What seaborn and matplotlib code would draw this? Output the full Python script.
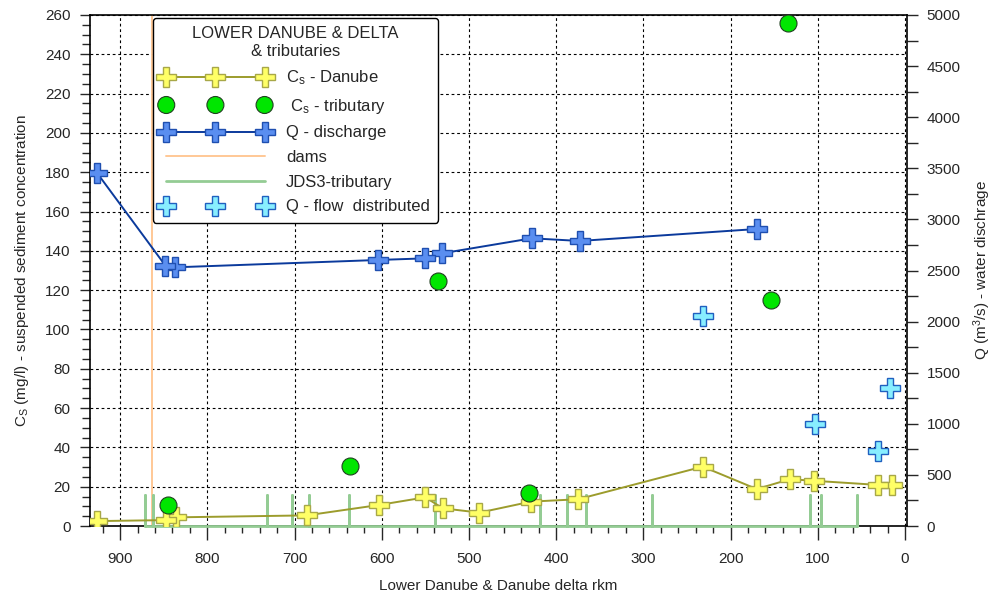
import numpy as np
import pandas as pd
import matplotlib
matplotlib.use("Agg")
import matplotlib.pyplot as plt
from matplotlib.ticker import MultipleLocator
import seaborn as sns

# Suspended sediment concentration along the Danube (rkm, mg/l)
cs_rkm = [926, 847, 836, 686, 603, 550, 530, 488, 429, 375, 232, 170, 132, 104, 31, 15]
cs_val = [2.5, 3.0, 4.4, 5.4, 10.7, 14.6, 9.0, 6.8, 12.4, 13.6, 30.2, 18.8, 23.8, 23.0, 20.9, 20.9]

# Suspended sediment concentration in tributaries (mg/l)
trib_rkm = [845, 636, 536, 431, 154, 134]
trib_cs = [10.7, 30.7, 124.8, 17.0, 115.0, 256.0]

# Water discharge along the Danube (m3/s)
q_rkm = [926, 848, 837, 604, 550, 531, 428, 373, 170]
q_val = [3450, 2547, 2531, 2603, 2619, 2668, 2815, 2789, 2906]

# Discharge distributed over the delta branches (m3/s)
qd_rkm = [232, 103, 31, 17]
qd_val = [2050, 998, 737, 1353]

# Dam position and JDS3 tributary confluences (rkm)
dam_rkm = 863
jds_rkm = [871, 862.5, 732, 702.5, 683, 637, 539, 418.5, 387, 366, 290, 109, 96, 55]
jds_mark = 300  # marker height on discharge axis

sns.set_style("ticks")
plt.rcParams["font.family"] = ["Liberation Sans", "DejaVu Sans"]
plt.rcParams["mathtext.fontset"] = "custom"
plt.rcParams["mathtext.rm"] = "Liberation Sans"
plt.rcParams["mathtext.it"] = "Liberation Sans"

fig = plt.figure(figsize=(9.92, 5.99), dpi=100)
ax = fig.add_axes([90 / 992, 1 - 526 / 599, 817 / 992, 511 / 599])
ax2 = ax.twinx()

# vertical markers: dam and tributary confluences
dam_df = pd.DataFrame({"x": [dam_rkm, dam_rkm], "y": [0, 260]})
sns.lineplot(data=dam_df, x="x", y="y", ax=ax, color="#ffc896", lw=1.4,
             sort=False, estimator=None, zorder=1)

jx, jy = [], []
for r in jds_rkm:
    jx += [r, r, r]
    jy += [0, jds_mark * 260 / 5000, 0]
jds_df = pd.DataFrame({"x": jx, "y": jy})
sns.lineplot(data=jds_df, x="x", y="y", ax=ax, color="#94cc94", lw=2,
             sort=False, estimator=None, zorder=3, clip_on=False)

# Danube concentration
cs_df = pd.DataFrame({"rkm": cs_rkm, "cs": cs_val})
sns.lineplot(data=cs_df, x="rkm", y="cs", ax=ax, color="#9c9c2c", lw=1.4,
             marker="P", markersize=15, markerfacecolor="#ffff66",
             markeredgecolor="#a8a848", markeredgewidth=1.0,
             estimator=None, zorder=4)

# tributary concentration
tr_df = pd.DataFrame({"rkm": trib_rkm, "cs": trib_cs})
sns.scatterplot(data=tr_df, x="rkm", y="cs", ax=ax, color="#00e600",
                edgecolor="#204020", linewidth=0.8, s=150, zorder=5)

# discharge
q_df = pd.DataFrame({"rkm": q_rkm, "q": q_val})
sns.lineplot(data=q_df, x="rkm", y="q", ax=ax2, color="#0b3a9c", lw=1.4,
             marker="P", markersize=15, markerfacecolor="#5a8ef0",
             markeredgecolor="#1f4fb0", markeredgewidth=1.0,
             estimator=None, zorder=3)

qd_df = pd.DataFrame({"rkm": qd_rkm, "q": qd_val})
sns.lineplot(data=qd_df, x="rkm", y="q", ax=ax2, linestyle="",
             marker="P", markersize=15, markerfacecolor="#88eeff",
             markeredgecolor="#2060c0", markeredgewidth=1.0,
             estimator=None, zorder=3)

ax.set_xlim(934.5, -2.3)
ax.set_ylim(0, 260)
ax2.set_ylim(0, 5000)

ax.xaxis.set_major_locator(MultipleLocator(100))
ax.xaxis.set_minor_locator(MultipleLocator(20))
ax.yaxis.set_major_locator(MultipleLocator(20))
ax.yaxis.set_minor_locator(MultipleLocator(5))
ax2.yaxis.set_major_locator(MultipleLocator(500))
ax2.yaxis.set_minor_locator(MultipleLocator(250))

ax.grid(True, which="major", color="black", lw=0.8, ls=(0, (2.5, 2.5)))
ax.set_axisbelow(True)

ax.tick_params(axis="x", which="major", length=10, width=1, pad=9, labelsize=11)
ax.tick_params(axis="x", which="minor", length=5, width=1)
ax.tick_params(axis="y", which="major", length=7, width=1, pad=7, labelsize=11)
ax.tick_params(axis="y", which="minor", length=6, width=1)
ax2.tick_params(axis="y", which="major", length=8, width=1, pad=6, labelsize=11)
ax2.tick_params(axis="y", which="minor", length=8, width=1)

for s in ax.spines.values():
    s.set_color("black")
    s.set_linewidth(1.2)
    s.set_visible(True)
ax.spines["right"].set_visible(False)
for name, s in ax2.spines.items():
    s.set_color("black")
    s.set_linewidth(1.2)
    s.set_visible(name == "right")

ax.set_xlabel("Lower Danube & Danube delta rkm", fontsize=11, labelpad=9)
ax.set_ylabel(r"C$_\mathregular{S}$ (mg/l) - suspended sediment concentration",
              fontsize=11, labelpad=10)
ax2.set_ylabel(r"Q (m$^\mathregular{3}$/s) - water dischrage", fontsize=11,
               labelpad=8)

# legend
line_dam, line_jds, line_cs = ax.lines[0], ax.lines[1], ax.lines[2]
scat_tr = ax.collections[0]
line_q, line_qd = ax2.lines[0], ax2.lines[1]
handles = [line_cs, scat_tr, line_q, line_dam, line_jds, line_qd]
labels = [r"C$_\mathregular{s}$ - Danube", r" C$_\mathregular{s}$ - tributary",
          "Q - discharge", "dams", "JDS3-tributary", "Q - flow  distributed"]
leg = ax2.legend(handles, labels, loc="upper left",
                 bbox_to_anchor=(0.077, 0.994),
                 title="LOWER DANUBE & DELTA\n& tributaries",
                 fontsize=12, title_fontsize=12, numpoints=3, scatterpoints=3,
                 scatteryoffsets=[0.5],
                 handlelength=6.5, labelspacing=0.58, borderpad=0.5,
                 handletextpad=1.0, borderaxespad=0, fancybox=True,
                 framealpha=1, edgecolor="black")
leg.get_frame().set_linewidth(1.0)
leg.get_title().set_multialignment("center")
leg.set_zorder(10)

fig.savefig("out.png", dpi=100)
